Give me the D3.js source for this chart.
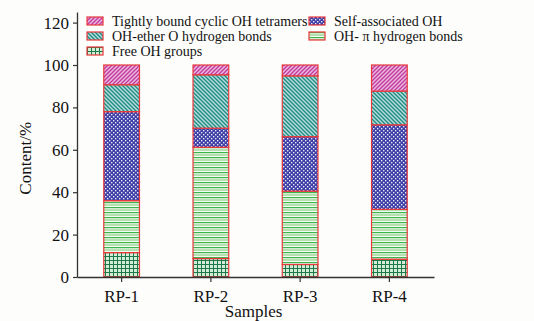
<!DOCTYPE html>
<html>
<head>
<meta charset="utf-8">
<script src="https://cdn.jsdelivr.net/npm/d3@7"></script>
<style>
  body { margin: 0; background: #fdfdfb; }
  text { font-family: "Liberation Serif", "Times New Roman", serif; fill: #111; }
</style>
</head>
<body>
<div id="chart"></div>
<script>
const samples = ["RP-1", "RP-2", "RP-3", "RP-4"];
const seriesNames = ["Free OH groups", "OH- \u03c0 hydrogen bonds", "Self-associated OH",
                     "OH-ether O hydrogen bonds", "Tightly bound cyclic OH tetramers"];
const freeOH   = [11.5, 8.7, 5.9, 8.4];
const ohPi     = [24.5, 52.5, 34.6, 23.5];
const selfOH   = [42.0, 9.0, 25.7, 39.9];
const etherOH  = [12.7, 25.2, 28.7, 15.9];
const tetramer = [9.3, 4.6, 5.1, 12.3];
const yTicks = [0, 20, 40, 60, 80, 100, 120];

const keys = ["free", "pi", "self", "ether", "tetra"];
const table = samples.map((s, i) => ({
  sample: s, free: freeOH[i], pi: ohPi[i], self: selfOH[i], ether: etherOH[i], tetra: tetramer[i]
}));

const W = 534, H = 321;
const margin = { top: 12, right: 100, bottom: 44, left: 77 };
const width = W - margin.left - margin.right;
const height = H - margin.top - margin.bottom;

const root = d3.select("#chart").append("svg")
  .attr("width", W).attr("height", H);

const defs = root.append("defs");

// hatch patterns
function pat(id, w, h, bg, draw) {
  const p = defs.append("pattern").attr("id", id)
    .attr("patternUnits", "userSpaceOnUse").attr("width", w).attr("height", h);
  p.append("rect").attr("width", w).attr("height", h).attr("fill", bg);
  draw(p);
}
pat("p-tetra", 4, 4, "#eab8dc", p => {
  p.append("path").attr("d", "M-1,1 l2,-2 M0,4 l4,-4 M3,5 l2,-2")
    .attr("stroke", "#c2379e").attr("stroke-width", 1.3);
});
pat("p-ether", 4, 4, "#b8dcd8", p => {
  p.append("path").attr("d", "M-1,3 l2,2 M0,0 l4,4 M3,-1 l2,2")
    .attr("stroke", "#1f8c88").attr("stroke-width", 1.4);
});
pat("p-self", 4, 4, "#3d3fa6", p => {
  p.append("rect").attr("x", 0).attr("y", 0).attr("width", 1.4).attr("height", 1.4).attr("fill", "#e8e8f6");
  p.append("rect").attr("x", 2).attr("y", 2).attr("width", 1.4).attr("height", 1.4).attr("fill", "#e8e8f6");
});
pat("p-pi", 4, 5, "#f4fbf2", p => {
  p.append("rect").attr("y", 0).attr("width", 4).attr("height", 1.2).attr("fill", "#3fb44a");
  p.append("rect").attr("y", 2.2).attr("width", 4).attr("height", 1.6).attr("fill", "#a6daa0");
});
pat("p-free", 4, 4, "#d4ecd8", p => {
  p.append("path").attr("d", "M0.5,0 v4 M0,0.5 h4")
    .attr("stroke", "#1c7a48").attr("stroke-width", 1);
});

const fills = { free: "url(#p-free)", pi: "url(#p-pi)", self: "url(#p-self)",
                ether: "url(#p-ether)", tetra: "url(#p-tetra)" };

const svg = root.append("g").attr("transform", `translate(${margin.left},${margin.top})`);

const x = d3.scaleBand().domain(samples).range([0, width]).paddingInner(0.6).paddingOuter(0.3);
const y = d3.scaleLinear().domain([0, 125]).range([height, 0]);

const stacked = d3.stack().keys(keys)(table);

svg.selectAll("g.layer")
  .data(stacked)
  .join("g")
  .attr("class", "layer")
  .attr("fill", d => fills[d.key])
  .selectAll("rect")
  .data(d => d)
  .join("rect")
  .attr("x", d => x(d.data.sample))
  .attr("y", d => y(d[1]))
  .attr("width", x.bandwidth())
  .attr("height", d => y(d[0]) - y(d[1]))
  .attr("stroke", "#e8383a")
  .attr("stroke-width", 1.2);

// axes
const yAxis = svg.append("g")
  .call(d3.axisLeft(y).tickValues(yTicks).tickSize(4).tickPadding(4).tickSizeOuter(0));
yAxis.select(".domain").attr("stroke", "#333").attr("stroke-width", 1.3);
yAxis.selectAll(".tick line").attr("stroke", "#333").attr("stroke-width", 1.2);
yAxis.selectAll("text").attr("font-size", 17).attr("font-family", "Liberation Serif").attr("fill", "#111");

const xAxis = svg.append("g").attr("transform", `translate(0,${height})`)
  .call(d3.axisBottom(x).tickSize(5).tickPadding(8).tickSizeOuter(0));
xAxis.select(".domain").attr("stroke", "#333").attr("stroke-width", 1.3);
xAxis.selectAll(".tick line").attr("stroke", "#333").attr("stroke-width", 1.2);
xAxis.selectAll("text").attr("font-size", 17).attr("font-family", "Liberation Serif").attr("fill", "#111");

svg.append("text")
  .attr("x", width / 2 - 2).attr("y", height + 40)
  .attr("text-anchor", "middle").attr("font-size", 17)
  .text("Samples");

svg.append("text")
  .attr("transform", `translate(${-46},${y(56)}) rotate(-90)`)
  .attr("text-anchor", "middle").attr("font-size", 17)
  .text("Content/%");

// legend
const legendItems = [
  { key: "tetra", col: 0, row: 0 },
  { key: "self", col: 1, row: 0 },
  { key: "ether", col: 0, row: 1 },
  { key: "pi", col: 1, row: 1 },
  { key: "free", col: 0, row: 2 }
];
const nameByKey = { free: seriesNames[0], pi: seriesNames[1], self: seriesNames[2],
                    ether: seriesNames[3], tetra: seriesNames[4] };
const legend = root.append("g");
const li = legend.selectAll("g").data(legendItems).join("g")
  .attr("transform", d => `translate(${d.col ? 309 : 87},${17 + d.row * 15})`);
li.append("rect")
  .attr("width", 16).attr("height", 8)
  .attr("fill", d => fills[d.key])
  .attr("stroke", "#e8383a").attr("stroke-width", 1.2);
li.append("text")
  .attr("x", 25).attr("y", 8.5)
  .attr("font-size", 14)
  .text(d => nameByKey[d.key]);
</script>
</body>
</html>
